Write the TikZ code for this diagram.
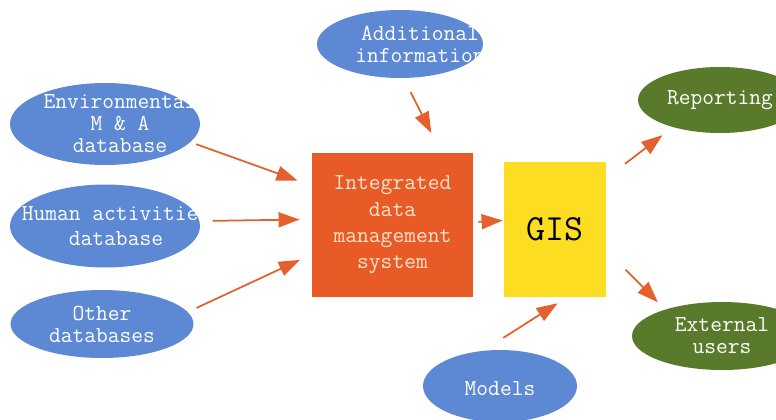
\documentclass[tikz,border=0pt]{standalone}
\usepackage{fontspec}
\usepackage{tikz}
\usetikzlibrary{shapes,arrows.meta,positioning}
\definecolor{clrBlue}{RGB}{92,136,212}
\definecolor{clrOrange}{RGB}{232,90,38}
\definecolor{clrYellow}{RGB}{253,221,34}
\definecolor{clrGreen}{RGB}{88,122,42}
\definecolor{clrArrow}{RGB}{228,96,44}
\definecolor{clrBoxText}{RGB}{250,228,205}
\tikzstyle{ell_style}=[ellipse, inner sep=0pt, draw=none]
\tikzstyle{source}=[ell_style, fill=clrBlue]
\tikzstyle{output}=[ell_style, fill=clrGreen]
\tikzstyle{txt}=[text=white, align=center, inner sep=0pt, font=\ttfamily\fontsize{13}{12.5}\selectfont]
\tikzstyle{box_style}=[rectangle, draw=none, inner sep=0pt, align=center]
\tikzstyle{myarrow}=[-{Triangle[length=12pt,width=8.5pt]}, line width=1pt, draw=clrArrow, fill=clrArrow]

\begin{document}
\begin{tikzpicture}[x=0.02cm, y=-0.02cm]
		\clip (0,0) rectangle (776,419) ; % picture frame

		% data sources
		\node[source, minimum width=3.8cm, minimum height=1.64cm] (A) at (105,124) {} ;
		\node[txt, xshift=0.3cm] (At) at (A) {Environmental\\M \& A\\database} ;

		\node[source, minimum width=3.8cm, minimum height=1.66cm] (B) at (105,226) {} ;
		\node[txt, xshift=0.22cm, font=\ttfamily\fontsize{13}{14}\selectfont] (Bt) at (B) {Human activities\\database} ;

		\node[source, minimum width=3.66cm, minimum height=1.36cm] (C) at (102,324) {} ;
		\node[txt] (Ct) at (C) {Other\\databases} ;

		\node[source, minimum width=3.32cm, minimum height=1.36cm] (D) at (400,44) {} ;
		\node[txt, xshift=0.4cm] (Dt) at (D) {Additional\\information} ;

		% central boxes
		\node[box_style, fill=clrOrange, text=clrBoxText, minimum width=3.22cm, minimum height=2.88cm,
			font=\ttfamily\fontsize{13}{15}\selectfont] (E) at (392.5,225) {Integrated\\data\\management\\system} ;

		\node[box_style, fill=clrYellow, text=black, minimum width=2.04cm, minimum height=2.7cm,
			font=\ttfamily\fontsize{21}{22}\selectfont] (F) at (555,229.5) {GIS} ;

		\node[source, minimum width=3.08cm, minimum height=1.44cm] (G) at (500,386) {} ;
		\node[txt, yshift=-0.06cm] (Gt) at (G) {Models} ;

		% outputs
		\node[output, minimum width=3.28cm, minimum height=1.32cm] (H) at (720,100) {} ;
		\node[txt] (Ht) at (H) {Reporting} ;

		\node[output, minimum width=3.6cm, minimum height=1.36cm] (I) at (722,336) {} ;
		\node[txt] (It) at (I) {External\\users} ;

		% connectors
		\draw[myarrow, shorten <=0.12cm, shorten >=0.3cm] (A.-12.7) -- (E.154.7) ;
		\draw[myarrow, shorten <=0.26cm, shorten >=0.24cm] (B.3.65) -- (E.176.4) ;
		\draw[myarrow, shorten <=0.19cm, shorten >=0.26cm] (C.8.8) -- (E.200.2) ;
		\draw[myarrow, shorten <=0.31cm, shorten >=0.44cm] (D.-84.6) -- (E.56.7) ;
		\draw[myarrow, shorten <=0.1cm, shorten >=0.02cm] (E.2.8) -- (F.170.5) ;
		\draw[myarrow, shorten <=0.47cm, shorten >=0.22cm] (G.115.5) -- (F.-80.5) ;
		\draw[myarrow, shorten <=0.47cm, shorten >=0.26cm] (F.45.8) -- (H.210.4) ;
		\draw[myarrow, shorten <=0.55cm, shorten >=0.2cm] (F.-22.3) -- (I.155.9) ;

	\end{tikzpicture}
\end{document}
